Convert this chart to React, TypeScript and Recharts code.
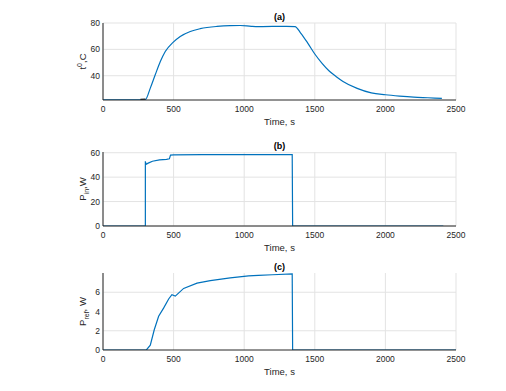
import React from 'react';
import { LineChart, Line, XAxis, YAxis, CartesianGrid } from 'recharts';

// (a) temperature, degC
const tempTime = [0, 265, 300, 335, 370, 406, 441, 496, 547, 618, 689, 807, 900, 972, 1050, 1100, 1200, 1300, 1360, 1400, 1450, 1500, 1550, 1600, 1650, 1700, 1800, 1900, 2000, 2100, 2200, 2300, 2400];
const tempValue = [21.7, 21.7, 21.9, 30.6, 40.7, 50.8, 58.4, 65.3, 69.8, 73.6, 75.7, 77.4, 78.0, 78.1, 77.5, 77.3, 77.4, 77.5, 77.3, 72.4, 64.8, 56.5, 49.6, 43.8, 39.5, 35.7, 30.4, 27.0, 25.6, 24.6, 23.8, 23.3, 22.8];
// short black trace near switch-on
const markTime = [265, 300];
const markValue = [22.0, 22.3];

// (b) input power, W
const pinTime = [0, 300, 300, 305, 320, 350, 400, 450, 470, 478, 500, 700, 1000, 1340, 1343, 2410];
const pinValue = [0, 0, 53, 50.5, 51.5, 53, 54.2, 54.5, 55, 58, 58.2, 58.4, 58.5, 58.5, 0, 0];

// (c) reflected power, W
const prefTime = [0, 307, 335, 363, 394, 429, 465, 488, 512, 571, 666, 760, 901, 1031, 1100, 1200, 1340, 1343, 2500];
const prefValue = [0, 0, 0.5, 2.1, 3.5, 4.35, 5.3, 5.74, 5.6, 6.4, 6.95, 7.2, 7.5, 7.7, 7.75, 7.82, 7.9, 0, 0];

const timeTicks = [0, 500, 1000, 1500, 2000, 2500];

const toRows = (t: number[], v: number[]) => t.map((x, i) => ({ t: x, v: v[i] }));

const FONT = '"Liberation Sans", Arial, sans-serif';
const BLUE = '#0072BD';
const AXIS = '#262626';
const PLOT_LEFT = 103;
const PLOT_W = 353;

const xTitle = (props: any) => {
  const vb = props.viewBox;
  return (
    <text x={vb.x + vb.width / 2} y={vb.y + 25} textAnchor="middle" fontSize={9.5} fill={AXIS} fontFamily={FONT}>
      Time, s
    </text>
  );
};

// y-axis title plus the bold panel title, at fixed spots around the plot box
const yTitle = (kind: 'a' | 'b' | 'c', plotTop: number, plotHeight: number) => () => {
  const cx = PLOT_LEFT - 17;
  const cy = plotTop + plotHeight / 2;
  return (
    <g>
      <text x={PLOT_LEFT + PLOT_W / 2} y={plotTop - 3.5} textAnchor="middle" fontSize={9} fontWeight="bold" fill="#000" fontFamily={FONT}>
        ({kind})
      </text>
      <text x={cx} y={cy} transform={`rotate(-90 ${cx} ${cy})`} textAnchor="middle" fontSize={9.5} fill={AXIS} fontFamily={FONT}>
        {kind === 'a' && (
          <>
            t<tspan dy={-4} fontSize={7}>0</tspan><tspan dy={4}>,C</tspan>
          </>
        )}
        {kind === 'b' && (
          <>
            P<tspan dy={2.5} fontSize={7}>in</tspan><tspan dy={-2.5}>,W</tspan>
          </>
        )}
        {kind === 'c' && (
          <>
            P<tspan dy={2.5} fontSize={7}>ref</tspan><tspan dy={-2.5}>, W</tspan>
          </>
        )}
      </text>
    </g>
  );
};

interface PanelProps {
  top: number;
  plotTop: number;
  plotHeight: number;
  domain: [number, number];
  ticks: number[];
  kind: 'a' | 'b' | 'c';
  series: { rows: { t: number; v: number }[]; color: string; smooth?: boolean }[];
}

const Panel = ({ top, plotTop, plotHeight, domain, ticks, kind, series }: PanelProps) => {
  const height = plotTop + plotHeight + 30;
  return (
    <div style={{ position: 'absolute', left: 0, top }}>
      <LineChart width={506} height={height} margin={{ top: plotTop, right: 50, bottom: 0, left: 0 }}>
        <CartesianGrid stroke="#e3e3e3" strokeWidth={1} horizontalValues={ticks} verticalValues={timeTicks} />
        <XAxis
          dataKey="t"
          type="number"
          domain={[0, 2500]}
          ticks={timeTicks}
          allowDataOverflow
          height={30}
          tickSize={0}
          tickMargin={6}
          tickLine={false}
          axisLine={{ stroke: AXIS }}
          tick={{ fill: AXIS, fontSize: 8.5, fontFamily: FONT }}
          label={{ content: xTitle }}
        />
        <XAxis
          xAxisId="top"
          orientation="top"
          type="number"
          domain={[0, 2500]}
          height={0}
          tick={false}
          tickLine={false}
          axisLine={{ stroke: AXIS }}
        />
        <YAxis
          type="number"
          domain={domain}
          ticks={ticks}
          allowDataOverflow
          width={103}
          tickSize={0}
          tickMargin={3}
          tickLine={false}
          axisLine={{ stroke: AXIS }}
          tick={{ fill: AXIS, fontSize: 8.5, fontFamily: FONT }}
          label={{ content: yTitle(kind, plotTop, plotHeight) }}
        />
        <YAxis yAxisId="r" orientation="right" width={0} domain={domain} tick={false} tickLine={false} axisLine={{ stroke: AXIS }} />
        {series.map((s, i) => (
          <Line
            key={i}
            data={s.rows}
            dataKey="v"
            type={s.smooth ? 'monotone' : 'linear'}
            stroke={s.color}
            strokeWidth={1.2}
            dot={false}
            activeDot={false}
            isAnimationActive={false}
          />
        ))}
      </LineChart>
    </div>
  );
};

export default function App() {
  return (
    <div style={{ position: 'absolute', left: 0, top: 0, width: 506, height: 391, background: '#fff', overflow: 'hidden' }}>
      <Panel
        top={0}
        plotTop={23}
        plotHeight={77}
        domain={[21.6, 80]}
        ticks={[40, 60, 80]}
        kind="a"
        series={[
          { rows: toRows(tempTime, tempValue), color: BLUE, smooth: true },
          { rows: toRows(markTime, markValue), color: '#222' },
        ]}
      />
      <Panel
        top={128}
        plotTop={24}
        plotHeight={74}
        domain={[0, 60.6]}
        ticks={[0, 20, 40, 60]}
        kind="b"
        series={[{ rows: toRows(pinTime, pinValue), color: BLUE }]}
      />
      <Panel
        top={250}
        plotTop={23}
        plotHeight={77}
        domain={[0, 8]}
        ticks={[0, 2, 4, 6]}
        kind="c"
        series={[{ rows: toRows(prefTime, prefValue), color: BLUE }]}
      />
    </div>
  );
}
